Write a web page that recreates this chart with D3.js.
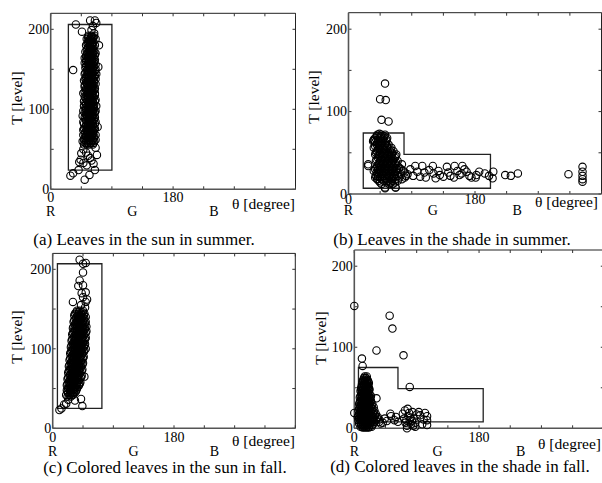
<!DOCTYPE html>
<meta charset="utf-8">
<body style="margin:0;background:#fff">
<script src="https://d3js.org/d3.v7.min.js"></script>
<script>

// axis ticks and labels
var thetaTicks = [0, 45, 90, 135, 180, 225, 270, 315, 360],
    thetaLabels = [0, 180],
    levelTicks = [0, 50, 100, 150, 200],
    levelLabels = [0, 100, 200],
    hueNames = ["R", "G", "B"],
    hueAngles = [0, 120, 240];

var captions = [
  "(a) Leaves in the sun in summer.",
  "(b) Leaves in the shade in summer.",
  "(c) Colored leaves in the sun in fall.",
  "(d) Colored leaves in the shade in fall."
];

// (a) sun, summer -- dense part as rows [T, [theta, ...]], the rest as [theta, T]
var sunSummerCore = [
  [56,[49,53,57,62]], [58,[51,55,59,63]], [60,[47,52,56,60,64]], [62,[49,54,58,62,66]],
  [64,[50,55,58,63]], [66,[52,56,60,64]], [68,[48,53,57,61,66]], [70,[50,55,58,62]],
  [72,[51,54,59,63]], [74,[48,53,57,61,64]], [76,[49,56,60,65]], [78,[51,54,59,63]],
  [80,[52,55,58,62]], [82,[49,55,58,62,65]], [84,[48,54,57,61,66]], [86,[52,56,60,63]],
  [88,[51,56,59,64]], [90,[50,54,57,61,65]], [92,[47,53,58,62]], [94,[52,56,59,63]],
  [96,[50,55,60,65]], [98,[48,53,58,62,66]], [100,[52,57,61,64]], [102,[51,55,59,63]],
  [104,[49,54,58,63,67]], [106,[52,56,60,64]], [108,[51,56,59,62]], [110,[49,54,58,62,65]],
  [112,[53,57,60,66]], [114,[51,55,59,63]], [116,[50,55,58,63]], [118,[53,57,61,65]],
  [120,[48,54,57,61,65]], [122,[50,55,59,62]], [124,[52,56,60,64]], [126,[52,57,61,65]],
  [128,[50,55,59,62]], [130,[50,54,58,63]], [132,[53,57,61,66]], [134,[52,56,60,64]],
  [136,[49,54,58,63]], [138,[51,55,59,62,66]], [140,[52,56,60,64]], [142,[53,57,61,65]],
  [144,[50,55,59,62,67]], [146,[51,56,60,63]], [148,[53,57,61,65]], [150,[54,58,62,66]],
  [152,[51,56,59,63]], [154,[52,56,60,64]], [156,[54,58,62,66]], [158,[50,55,59,63]],
  [160,[52,56,60,64]], [162,[53,57,61,65]], [164,[50,55,59,63]], [166,[52,56,60,63]],
  [168,[53,58,61,65]], [170,[54,58,62,66]], [172,[51,56,60,64]], [174,[53,57,61]],
  [176,[54,58,62]], [178,[55,59,63]], [180,[52,57,61,65]], [182,[54,58,62]],
  [184,[55,59,63]], [186,[56,60]], [188,[53,58,62]], [190,[55,59,63]], [192,[56,60,64]]
];
var sunSummerOther = [
  [37,206],[33,149],[46,197],[58,211],[65,211],[67,208],[62,204],[60,199],[64,195],[71,180],
  [70,153],[69,78],[61,190],[56,186],[66,188],[29,17],[33,20],[41,24],[50,12],[57,18],
  [65,24],[68,43],[44,37],[48,50],[58,39],[45,45],[63,32],[53,30],[48,33],[60,36],
  [66,52],[42,34],[52,46],[55,42]
];
var sunSummerBox = [[26,24],[26,206],[90,206],[90,24]];

// (b) shade, summer
var shadeSummerCore = [
  [8,[52,67]], [12,[47,58,63]], [14,[45,54,60,66]], [16,[43,50,56,62,70]],
  [18,[41,48,55,61,67,76]], [20,[38,45,52,58,64,72,80]], [22,[39,46,53,59,65,70,82]],
  [24,[41,48,54,60,66,75,84]], [26,[43,50,57,63,71,80]], [28,[36,44,50,56,62,68,78]],
  [30,[38,45,51,57,63,69,75]], [32,[40,46,52,58,64,72]], [34,[41,47,53,59,65,70]],
  [36,[28,43,49,55,61,67,76]], [38,[44,50,56,62,68]], [40,[39,45,51,57,63,70]],
  [42,[40,46,52,58,64]], [44,[42,48,54,60,66]], [46,[43,49,55,61,67]],
  [48,[38,44,50,56,62,68]], [50,[39,45,51,57,62]], [52,[41,47,53,59,64]],
  [54,[42,48,54,60]], [56,[36,43,49,55,61]], [58,[38,44,50,55]], [60,[40,46,52,57]],
  [62,[41,47,53]], [64,[35,43,48,54]], [66,[36,42,49,54]], [68,[38,45,50,55]],
  [70,[40,46,51]], [72,[41,47,52]]
];
var shadeSummerOther = [
  [52,134],[45,115],[53,114],[47,90],[57,88],[28,34],[41,18],[40,26],[52,7],[67,8],
  [60,14],[36,65],[44,73],[38,63],[40,52],[42,29],[42,21],
  [88,30],[92,22],[95,34],[98,27],[102,21],[105,34],[108,26],[110,20],[115,29],[120,34],
  [121,25],[124,19],[128,28],[130,23],[135,21],[140,33],[142,26],[145,22],[150,20],[151,34],
  [155,28],[158,23],[162,34],[161,25],[165,30],[168,27],[172,22],[175,20],[181,20],[182,23],
  [186,27],[194,25],[200,22],[206,27],[205,19],[223,23],[231,22],[241,25],[313,24],
  [333,33],[333,27],[333,22],[333,18],[333,15]
];
var shadeSummerBox = [[21,7],[21,74],[79,74],[79,48],[202,48],[202,7]];

// (c) sun, fall
var sunFallCore = [
  [40,[22,27]], [42,[20,25,30]], [44,[23,28,32]], [46,[22,27,31,34]], [48,[21,26,30,35]],
  [50,[23,27,32,36]], [52,[24,28,33,37]], [54,[21,26,30,35,39]], [56,[22,27,31,36,40]],
  [58,[24,28,33,37,41]], [60,[25,29,34,39]], [62,[22,27,31,36,40]], [64,[23,28,32,37,42]],
  [66,[25,29,34,38,43]], [68,[26,30,35,40]], [70,[23,28,32,37,41]], [72,[24,29,33,38,43]],
  [74,[26,30,35,39,44]], [76,[27,31,36,41]], [78,[24,29,33,38,42]], [80,[25,30,34,39,44]],
  [82,[27,31,36,40,45]], [84,[28,32,37,42]], [86,[25,30,34,39,43]], [88,[26,31,35,40,45]],
  [90,[28,32,37,41,46]], [92,[29,33,38,43]], [94,[26,31,35,40,44]], [96,[27,32,36,41,46]],
  [98,[29,33,38,42,47]], [100,[30,34,39,44,49]], [102,[27,32,36,41,46]], [104,[28,33,37,42,47]],
  [106,[30,34,39,43,48]], [108,[31,35,40,45]], [110,[28,33,37,42,46]], [112,[29,34,38,43,48]],
  [114,[31,35,40,44,49]], [116,[32,36,41,46]], [118,[29,34,38,43,47]], [120,[30,35,39,44,49]],
  [122,[32,36,41,45,50]], [124,[33,37,42,47]], [126,[30,35,39,44,48]], [128,[31,36,40,45,50]],
  [130,[33,37,42,46]], [132,[34,38,43,48]], [134,[31,36,40,45,49]], [136,[32,37,41,46]],
  [138,[34,38,43,47]], [140,[35,39,44,49]], [142,[32,37,41,46]], [144,[33,38,42,47]],
  [146,[35,39,44]], [148,[36,40,45]]
];
var sunFallOther = [
  [40,212],[45,207],[49,208],[45,196],[40,186],[38,179],[45,180],[43,170],[49,171],[51,162],
  [49,159],[30,159],[45,165],[13,25],[10,23],[17,30],[20,31],[33,35],[42,37],[44,28],
  [23,36],[26,44],[28,52],[47,65],[48,152],[42,155]
];
var sunFallBox = [[7,25],[7,207],[73,207],[73,25]];

// (d) shade, fall
var shadeFallCore = [
  [64,[15,18]], [62,[14,17]], [60,[13,16,19]], [58,[12,15,18,20]], [56,[12,15,18,21]],
  [54,[11,14,17,20]], [52,[11,14,17,20]], [50,[10,13,16,19,21]], [48,[10,13,16,19,22]],
  [46,[9,12,15,18,21]], [44,[11,14,17,20]], [42,[10,13,16,19,22]], [40,[9,12,15,18,21,24]],
  [38,[8,11,14,17,20,23]], [36,[10,13,16,19,22]], [34,[9,12,15,18,21,24]],
  [32,[8,11,14,17,20,23]], [30,[7,10,13,16,19,22,26]], [28,[9,12,15,18,21,25]],
  [26,[8,11,14,17,20,24,28]], [24,[7,10,13,16,19,22,26]], [22,[6,9,12,15,18,21,25,29]],
  [20,[8,11,14,17,20,24,28]], [18,[7,10,13,16,19,22,27,31]], [16,[6,9,12,15,18,21,25,30]],
  [14,[5,8,11,14,17,20,24,28,34]], [12,[7,10,13,16,19,23,27,33]], [10,[6,9,12,15,18,22,26,31]],
  [8,[8,11,14,17,20,24,29,36]], [6,[7,10,13,16,19,23,28,38]], [4,[10,13,16,19,22,26]],
  [2,[9,12,15,18,21,25]], [1,[12,15,18,21]]
];
var shadeFallOther = [
  [0,151],[51,139],[55,123],[32,96],[71,90],[11,86],[12,77],[80,51],[32,37],[0,19],
  [52,18],[53,15],[41,7],[47,9],[44,12],[36,11],[58,10],[63,8],[60,14],
  [70,18],[72,12],[74,7],[76,3],[78,15],[80,10],[82,5],[84,20],[86,12],[88,7],[90,17],
  [73,22],[77,24],[81,13],[85,3],[75,10],[79,19],[83,9],
  [95,16],[100,11],[105,15],[105,10],[105,4],[98,5],[102,19],[93,20],[88,2],[76,0]
];
var shadeFallBox = [[6,8],[6,75],[63,75],[63,49],[186,49],[186,8]];

// panel placement on the page
var layout = [
  {x0: 50.7, x1: 295.5, y0: 189.3, y1: 13.3, tickY: 202, hueY: 216, thX: 295, thY: 208.5, labX: 21.5, labY: 98, capX: 144, capY: 245},
  {x0: 348.5, x1: 601.5, y0: 194, y1: 12.7, tickY: 203.5, hueY: 215, thX: 598, thY: 207, labX: 319, labY: 97, capX: 452, capY: 245},
  {x0: 52.7, x1: 295.3, y0: 428.3, y1: 253.4, tickY: 441.5, hueY: 456, thX: 295, thY: 446, labX: 22, labY: 337, capX: 165, capY: 473},
  {x0: 354.3, x1: 603.8, y0: 428.3, y1: 250, tickY: 441.5, hueY: 456, thX: 601, thY: 449, labX: 325.5, labY: 338, capX: 460, capY: 472}
];

var panelData = [
  [sunSummerCore, sunSummerOther, sunSummerBox],
  [shadeSummerCore, shadeSummerOther, shadeSummerBox],
  [sunFallCore, sunFallOther, sunFallBox],
  [shadeFallCore, shadeFallOther, shadeFallBox]
];

var svg = d3.select("body").append("svg")
    .attr("width", 602)
    .attr("height", 483)
    .style("display", "block")
    .style("font-family", "'Liberation Serif', 'DejaVu Serif', serif");

svg.append("rect").attr("width", 602).attr("height", 483).attr("fill", "#fff");

layout.forEach(function(p, i) {
  var core = panelData[i][0], other = panelData[i][1], box = panelData[i][2];

  var x = d3.scaleLinear().domain([0, 360]).range([p.x0, p.x1]);
  var y = d3.scaleLinear().domain([0, 220]).range([p.y0, p.y1]);

  var g = svg.append("g");

  // points: flatten rows then add the loose ones
  var pts = [];
  core.forEach(function(r) { r[1].forEach(function(t) { pts.push([t, r[0]]); }); });
  pts = pts.concat(other);

  // frame: top and right thin, left and bottom heavier grey
  g.append("line").attr("x1", x(0)).attr("x2", x(360)).attr("y1", y(220)).attr("y2", y(220))
    .attr("stroke", "#222").attr("stroke-width", 1);
  g.append("line").attr("x1", x(360)).attr("x2", x(360)).attr("y1", y(0)).attr("y2", y(220))
    .attr("stroke", "#222").attr("stroke-width", 1);

  // inward ticks on all four sides
  levelTicks.forEach(function(v) {
    g.append("line").attr("x1", x(0)).attr("x2", x(0) + 3).attr("y1", y(v)).attr("y2", y(v)).attr("stroke", "#333");
    g.append("line").attr("x1", x(360)).attr("x2", x(360) - 3).attr("y1", y(v)).attr("y2", y(v)).attr("stroke", "#333");
  });
  thetaTicks.forEach(function(v) {
    g.append("line").attr("x1", x(v)).attr("x2", x(v)).attr("y1", y(0)).attr("y2", y(0) - 3).attr("stroke", "#333");
    g.append("line").attr("x1", x(v)).attr("x2", x(v)).attr("y1", y(220)).attr("y2", y(220) + 3).attr("stroke", "#333");
  });

  g.append("line").attr("x1", x(0)).attr("x2", x(0)).attr("y1", y(0)).attr("y2", y(220))
    .attr("stroke", "#555").attr("stroke-width", 1.6);
  g.append("line").attr("x1", x(0)).attr("x2", x(360)).attr("y1", y(0)).attr("y2", y(0))
    .attr("stroke", "#555").attr("stroke-width", 1.6);

  // region box
  g.append("path")
    .attr("d", d3.line().x(function(d) { return x(d[0]); }).y(function(d) { return y(d[1]); })(box) + "Z")
    .attr("fill", "none").attr("stroke", "#222").attr("stroke-width", 1.3);

  // scatter
  g.selectAll("circle.pt").data(pts).enter().append("circle")
    .attr("class", "pt")
    .attr("cx", function(d) { return x(d[0]); })
    .attr("cy", function(d) { return y(d[1]); })
    .attr("r", 3.7)
    .attr("fill", "none")
    .attr("stroke", "#000")
    .attr("stroke-width", 1.1);

  // tick labels
  levelLabels.forEach(function(v) {
    g.append("text").attr("x", x(0) - 1.5).attr("y", y(v)).attr("dy", "0.35em")
      .attr("text-anchor", "end").style("font-size", "14px").text(v);
  });
  thetaLabels.forEach(function(v) {
    g.append("text").attr("x", x(v)).attr("y", p.tickY)
      .attr("text-anchor", "middle").style("font-size", "14px").text(v);
  });
  hueNames.forEach(function(n, k) {
    g.append("text").attr("x", x(hueAngles[k])).attr("y", p.hueY)
      .attr("text-anchor", "middle").style("font-size", "14px").text(n);
  });

  // axis titles
  g.append("text").attr("x", p.thX).attr("y", p.thY)
    .attr("text-anchor", "end").style("font-size", "15.5px").text("\u03b8 [degree]");
  g.append("text")
    .attr("transform", "translate(" + p.labX + "," + p.labY + ") rotate(-90)")
    .attr("text-anchor", "middle").style("font-size", "15.5px").text("T [level]");

  // caption
  g.append("text").attr("x", p.capX).attr("y", p.capY)
    .attr("text-anchor", "middle").style("font-size", "17px").text(captions[i]);
});

</script>
</body>
</html>
